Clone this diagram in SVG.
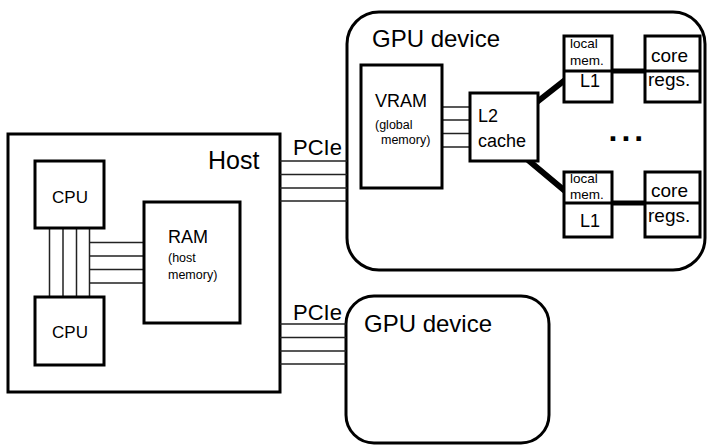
<svg xmlns="http://www.w3.org/2000/svg" width="707" height="445" viewBox="0 0 707 445">
<style>
.box{fill:#fff;stroke:#000;stroke-width:3}
.div{stroke:#000;stroke-width:3}
.wire{stroke:#222;stroke-width:1.5;fill:none}
.thick{stroke:#000;stroke-width:6;fill:none}
.link{stroke:#000;stroke-width:5;fill:none}
text{font-family:"Liberation Sans",Arial,sans-serif;fill:#000}
.big{font-size:24px}
.pcie{font-size:22px}
.mid{font-size:18px}
.cr{font-size:19px}
.sm{font-size:12.5px}
.xs{font-size:13.5px}
</style>
<rect width="707" height="445" fill="#fff"/>
<g id="host">
  <rect class="box" x="8" y="134" width="272" height="258"/>
  <text x="208" y="169" font-size="25">Host</text>
</g>
<g id="gpu1">
  <rect class="box" x="347" y="12" width="358" height="258" rx="32"/>
  <text x="372" y="47" class="big">GPU device</text>
</g>
<g id="gpu2">
  <rect class="box" x="346" y="296" width="203" height="147" rx="28"/>
  <text x="364" y="332" class="big">GPU device</text>
</g>
<g id="connectors">
  <path class="wire" d="M49.5,228V297M63,228V297M76.5,228V297M89.5,228V297"/>
  <path class="wire" d="M89.5,242.5H144M89.5,256H144M89.5,269.5H144M89.5,283H144"/>
  <path class="wire" d="M280,161H347M280,174.5H347M280,188H347M280,201H347"/>
  <path class="wire" d="M280,324H346M280,337.5H346M280,351H346M280,364H346"/>
  <path class="wire" d="M442,107H470M442,120H470M442,133.5H470M442,147H470"/>
  <path class="thick" d="M537,102L565,80M528,160L565,191"/>
  <path class="link" d="M612,71H646M612,203H646"/>
  <text x="293" y="155" class="pcie">PCIe</text>
  <text x="293" y="320" class="pcie">PCIe</text>
</g>
<g id="cpu1">
  <rect class="box" x="35" y="161" width="69" height="67"/>
  <text x="70" y="203" font-size="17" text-anchor="middle">CPU</text>
</g>
<g id="cpu2">
  <rect class="box" x="35" y="297" width="69" height="68"/>
  <text x="70" y="338" font-size="17" text-anchor="middle">CPU</text>
</g>
<g id="ram">
  <rect class="box" x="144" y="202" width="96" height="121"/>
  <text x="168" y="243" class="mid">RAM</text>
  <text x="168" y="262" class="sm">(host</text>
  <text x="168" y="279" class="sm">memory)</text>
</g>
<g id="vram">
  <rect class="box" x="361" y="65" width="81" height="123"/>
  <text x="375" y="107" class="mid">VRAM</text>
  <text x="375" y="129" class="sm">(global</text>
  <text x="381" y="144" class="sm">memory)</text>
</g>
<g id="l2">
  <rect class="box" x="470" y="93" width="68" height="68"/>
  <text x="478" y="122" class="mid">L2</text>
  <text x="478" y="147" class="mid">cache</text>
</g>
<g id="sm1">
  <rect class="box" x="564" y="36" width="48" height="66"/>
  <line class="div" x1="564" y1="71" x2="612" y2="71"/>
  <text x="570" y="48" class="xs">local</text>
  <text x="570" y="65" class="xs">mem.</text>
  <text x="580" y="87" class="mid">L1</text>
</g>
<g id="core1">
  <rect class="box" x="645" y="36" width="55" height="66"/>
  <line class="div" x1="645" y1="71" x2="700" y2="71"/>
  <text x="651" y="62" class="cr">core</text>
  <text x="648" y="86" class="cr">regs.</text>
</g>
<g id="dots">
  <text x="608.5" y="141" font-size="32" font-weight="bold" letter-spacing="4">...</text>
</g>
<g id="sm2">
  <rect class="box" x="564" y="172" width="48" height="65"/>
  <line class="div" x1="564" y1="203" x2="612" y2="203"/>
  <text x="570" y="183" class="xs">local</text>
  <text x="570" y="199" class="xs">mem.</text>
  <text x="580" y="227" class="mid">L1</text>
</g>
<g id="core2">
  <rect class="box" x="645" y="172" width="55" height="65"/>
  <line class="div" x1="645" y1="203" x2="700" y2="203"/>
  <text x="651" y="197" class="cr">core</text>
  <text x="648" y="222" class="cr">regs.</text>
</g>
</svg>
